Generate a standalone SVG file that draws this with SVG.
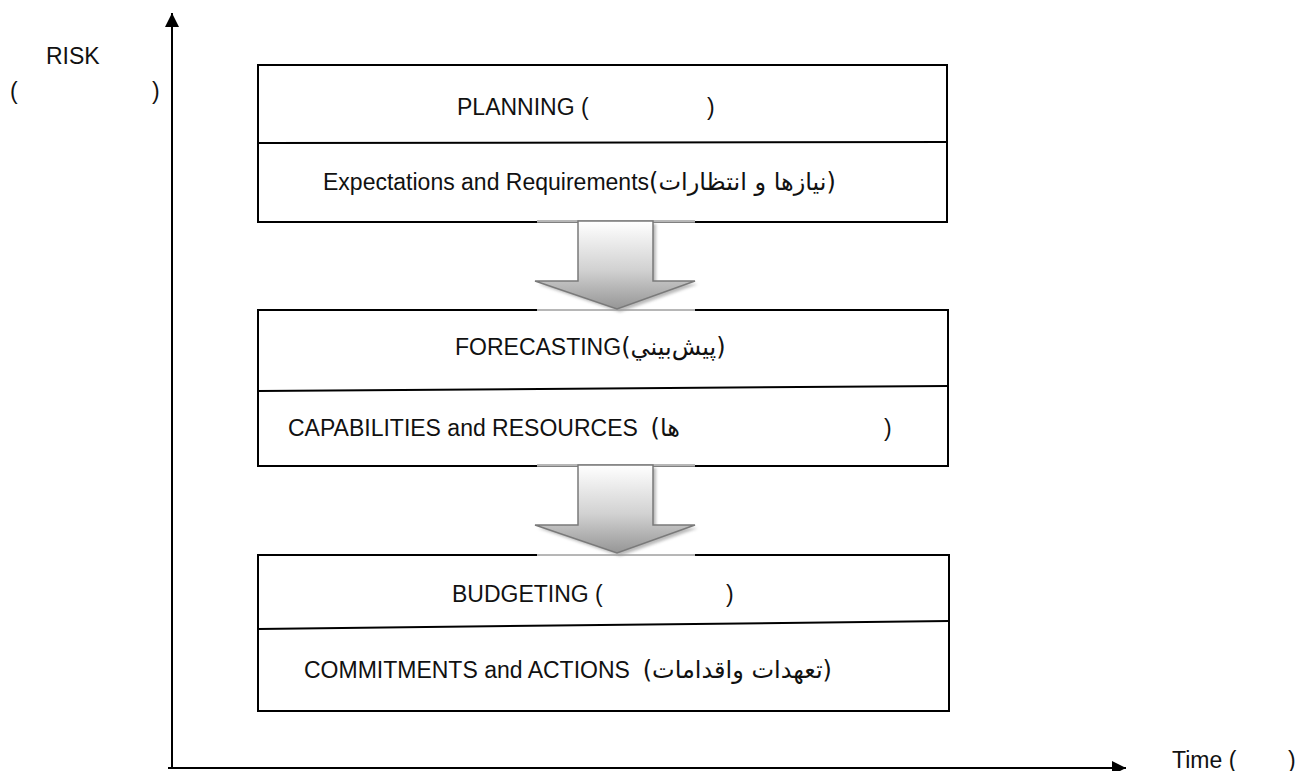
<svg xmlns="http://www.w3.org/2000/svg" width="1301" height="771" viewBox="0 0 1301 771">
  <defs>
    <linearGradient id="arrowFill" x1="0" y1="0" x2="0" y2="1">
      <stop offset="0" stop-color="#ffffff"/>
      <stop offset="0.55" stop-color="#d2d2d2"/>
      <stop offset="1" stop-color="#969696"/>
    </linearGradient>
    <filter id="soft" x="-20%" y="-20%" width="140%" height="140%">
      <feGaussianBlur stdDeviation="1.5"/>
    </filter>
    <marker id="axisHead" viewBox="0 0 10 10" refX="10" refY="5" markerWidth="7.5" markerHeight="7" markerUnits="strokeWidth" orient="auto">
      <path d="M0,0 L10,5 L0,10 z" fill="#000"/>
    </marker>
    <path id="blockArrow" d="M0,0 L75,0 L75,60 L117,60 L39,88 L-43,60 L0,60 Z"/>
  </defs>
  <style>
    text { font-family: "Liberation Sans", "DejaVu Sans", Arial, sans-serif; font-size: 23px; fill: #111; }
    .fa { font-family: "DejaVu Sans", sans-serif; font-size: 24px; }
    .box { fill: #fff; stroke: #000; stroke-width: 2; }
    .divider { stroke: #000; stroke-width: 2; fill: none; }
    .axis { stroke: #000; stroke-width: 2; fill: none; }
    .seam { stroke: #fff; stroke-width: 3; }
    .seamLine { stroke: #6e6e6e; stroke-width: 1; }
    .arrowBody { fill: url(#arrowFill); stroke: #7a7a7a; stroke-width: 1.5; }
    .arrowShadow { fill: #9c9c9c; opacity: 0.7; }
  </style>

  <!-- axes -->
  <g id="axes">
    <line class="axis" x1="172" y1="768" x2="172" y2="13" marker-end="url(#axisHead)"/>
    <line class="axis" x1="168" y1="768" x2="1126" y2="768" marker-end="url(#axisHead)"/>
    <text x="46" y="64">RISK</text>
    <text x="10" y="99">(</text>
    <text x="152" y="99">)</text>
    <text x="1172" y="768">Time (</text>
    <text x="1288" y="768">)</text>
  </g>

  <!-- planning -->
  <g id="planning">
    <rect class="box" x="258" y="65" width="689" height="157"/>
    <line class="divider" x1="258" y1="143" x2="947" y2="142"/>
    <text x="457" y="115">PLANNING (</text>
    <text x="707" y="115">)</text>
    <text x="323" y="190">Expectations and Requirements<tspan class="fa">(نیازها و انتظارات)</tspan></text>
  </g>

  <!-- forecasting -->
  <g id="forecasting">
    <rect class="box" x="258" y="310" width="690" height="156"/>
    <line class="divider" x1="258" y1="391" x2="948" y2="386"/>
    <text x="455" y="355">FORECASTING<tspan class="fa">(پیش‌بيني)</tspan></text>
    <text x="288" y="436" xml:space="preserve">CAPABILITIES and RESOURCES  <tspan class="fa">(ها</tspan></text>
    <text x="884" y="436">)</text>
  </g>

  <!-- budgeting -->
  <g id="budgeting">
    <rect class="box" x="258" y="555" width="691" height="156"/>
    <line class="divider" x1="258" y1="629" x2="949" y2="621"/>
    <text x="452" y="602">BUDGETING (</text>
    <text x="726" y="602">)</text>
    <text x="304" y="678" xml:space="preserve">COMMITMENTS and ACTIONS  <tspan class="fa">(تعهدات واقدامات)</tspan></text>
  </g>

  <!-- block arrows between stages -->
  <g id="connectors">
    <g transform="translate(578,221)">
      <line class="seam" x1="-41" y1="0" x2="117" y2="0"/>
      <line class="seamLine" x1="-41" y1="0" x2="117" y2="0"/>
      <line class="seam" x1="-41" y1="89" x2="117" y2="89"/>
      <line class="seamLine" x1="-41" y1="89" x2="117" y2="89"/>
      <use href="#blockArrow" class="arrowShadow" transform="translate(3,3)" filter="url(#soft)"/>
      <use href="#blockArrow" class="arrowBody"/>
    </g>
    <g transform="translate(578,465)">
      <line class="seam" x1="-41" y1="0" x2="117" y2="0"/>
      <line class="seamLine" x1="-41" y1="0" x2="117" y2="0"/>
      <line class="seam" x1="-41" y1="90" x2="117" y2="90"/>
      <line class="seamLine" x1="-41" y1="90" x2="117" y2="90"/>
      <use href="#blockArrow" class="arrowShadow" transform="translate(3,3)" filter="url(#soft)"/>
      <use href="#blockArrow" class="arrowBody"/>
    </g>
  </g>
</svg>
